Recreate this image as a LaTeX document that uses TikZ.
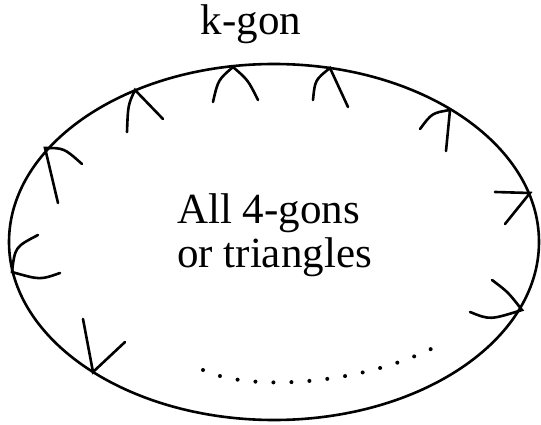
\documentclass[tikz,border=0pt]{standalone}
\usepackage{fontspec}
\setmainfont{Liberation Serif}

\begin{document}
\begin{tikzpicture}[x=1pt,y=-1pt,
    stroke/.style={line width=2.6pt,line cap=round},
    txt/.style={font=\fontsize{43}{44}\selectfont,inner sep=0pt}]
    \useasboundingbox (0,0) rectangle (541,425);

    % Outer face
    \draw[stroke] (274,242) ellipse [x radius=265pt, y radius=178pt];
    \node[txt,anchor=base] (title) at (251,35) {k-gon};
    \node[txt,anchor=base west,align=left] (inside) at (177,267) {All 4-gons\\or triangles};

    % Boundary vertices with their two inner edges
    \coordinate (v1) at (45,148);
    \draw[stroke] (58,203) -- (v1) .. controls (64,148) .. (82,164);
    \coordinate (v2) at (135,90);
    \draw[stroke] (127,132) .. controls (128,105) .. (v2) -- (163,119);
    \coordinate (v3) at (233,67);
    \draw[stroke] (213,102) .. controls (218,80) .. (v3) .. controls (248,80) .. (258,100);
    \coordinate (v4) at (330,68);
    \draw[stroke] (313,100) .. controls (315,80) .. (v4) -- (348,107);
    \coordinate (v5) at (450,110);
    \draw[stroke] (420,129) .. controls (432,113) .. (v5) -- (446,151);
    \coordinate (v6) at (530,193);
    \draw[stroke] (495,192) -- (v6) -- (505,224);
    \coordinate (v7) at (522,310);
    \draw[stroke] (492,280) .. controls (508,292) .. (v7) .. controls (490,320) .. (470,312);
    \coordinate (v8) at (93,372);
    \draw[stroke] (83,319) -- (v8) -- (125,342);
    \coordinate (v9) at (12,272);
    \draw[stroke] (38,235) .. controls (15,247) .. (v9) .. controls (40,280) .. (60,273);

    % Remaining vertices
    \draw[line width=4pt,line cap=round,dash pattern=on 0pt off 18pt]
        (203,370) .. controls (250,392) and (360,385) .. (435,347);
\end{tikzpicture}
\end{document}
